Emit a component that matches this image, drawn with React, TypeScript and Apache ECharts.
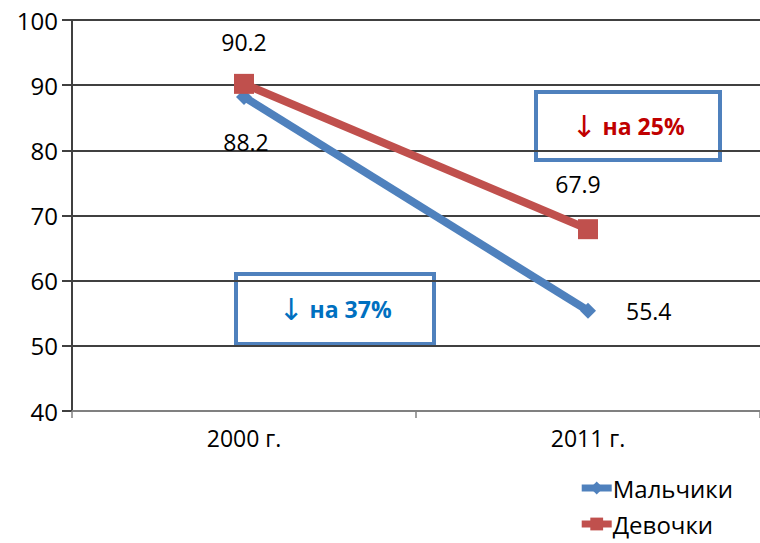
import React, { useEffect, useRef } from "react";
import * as echarts from "echarts";

const categories = ["2000 г.", "2011 г."];
const boys = [88.2, 55.4];
const girls = [90.2, 67.9];
const seriesNames = ["Мальчики", "Девочки"];
const arrow = "↓";
const boysNote = "на 37%";
const girlsNote = "на 25%";

const FONT = "'Open Sans', 'Noto Sans', sans-serif";

export default function App() {
  const ref = useRef<HTMLDivElement>(null);
  useEffect(() => {
    if (!ref.current) return;
    const chart = echarts.init(ref.current, undefined, { renderer: "svg" });
    const boyLabelPos = ["bottom", "right"];
    const girlLabelPos = ["top", "top"];
    const note = (x: number, y: number, w: number, h: number, text: string, color: string) => ({
      type: "group",
      left: x,
      top: y,
      children: [
        {
          type: "rect",
          shape: { x: 0, y: 0, width: w, height: h },
          style: { fill: "#fff", stroke: "#4F81BD", lineWidth: 4 },
        },
        {
          type: "text",
          x: w / 2,
          y: h / 2,
          style: {
            text: "{a|" + arrow + "} " + text,
            fill: color,
            font: "bold 23px " + FONT,
            align: "center",
            verticalAlign: "middle",
            rich: {
              a: { fontFamily: "'DejaVu Sans'", fontSize: 30, fontWeight: "normal", fill: color, color: color },
            },
          },
        },
      ],
    });
    chart.setOption({
      animation: false,
      backgroundColor: "#ffffff",
      textStyle: { fontFamily: FONT },
      grid: { left: 72, right: 0, top: 20, bottom: 132 },
      xAxis: {
        type: "category",
        data: categories,
        boundaryGap: true,
        axisLine: { lineStyle: { color: "#808080", width: 2 } },
        axisTick: { show: true, length: 7, lineStyle: { color: "#808080", width: 1.5 } },
        axisLabel: { color: "#000", fontSize: 23, fontFamily: FONT, margin: 15 },
      },
      yAxis: {
        type: "value",
        min: 40,
        max: 100,
        interval: 10,
        axisLine: { show: true, lineStyle: { color: "#404040", width: 2 } },
        axisTick: { show: true, length: 10, lineStyle: { color: "#404040", width: 2 } },
        axisLabel: { color: "#000", fontSize: 24, fontFamily: FONT, margin: 14 },
        splitLine: { lineStyle: { color: "#404040", width: 2 } },
      },
      legend: {
        orient: "vertical",
        right: 22,
        bottom: 2,
        itemWidth: 30,
        itemHeight: 16,
        itemGap: 12,
        lineStyle: { width: 7 },
        textStyle: { fontSize: 24, color: "#000", fontFamily: FONT, padding: [0, 0, 0, -4] },
        data: seriesNames,
      },
      series: [
        {
          name: seriesNames[0],
          type: "line",
          data: boys.map((v, i) => ({
            value: v,
            label: {
              show: true,
              position: boyLabelPos[i],
              distance: i === 0 ? 26 : 30,
              offset: i === 0 ? [2, 0] : [0, 0],
            },
          })),
          symbol: "diamond",
          symbolSize: 16,
          lineStyle: { color: "#4F81BD", width: 8 },
          itemStyle: { color: "#4F81BD" },
          label: { color: "#000", fontSize: 23, fontFamily: FONT },
          z: 2,
        },
        {
          name: seriesNames[1],
          type: "line",
          data: girls.map((v, i) => ({
            value: v,
            label: {
              show: true,
              position: girlLabelPos[i],
              distance: i === 0 ? 20 : 24,
              offset: i === 0 ? [0, 0] : [-10, 0],
            },
          })),
          symbol: "rect",
          symbolSize: 20,
          lineStyle: { color: "#C0504D", width: 8 },
          itemStyle: { color: "#C0504D" },
          label: { color: "#000", fontSize: 23, fontFamily: FONT },
          z: 3,
        },
      ],
      graphic: [
        note(534, 90, 184, 68, girlsNote, "#C00000"),
        note(234, 272, 198, 70, boysNote, "#0070C0"),
      ],
    });
    return () => chart.dispose();
  }, []);
  return <div ref={ref} style={{ width: 760, height: 543, position: "absolute", left: 0, top: 0 }} />;
}
